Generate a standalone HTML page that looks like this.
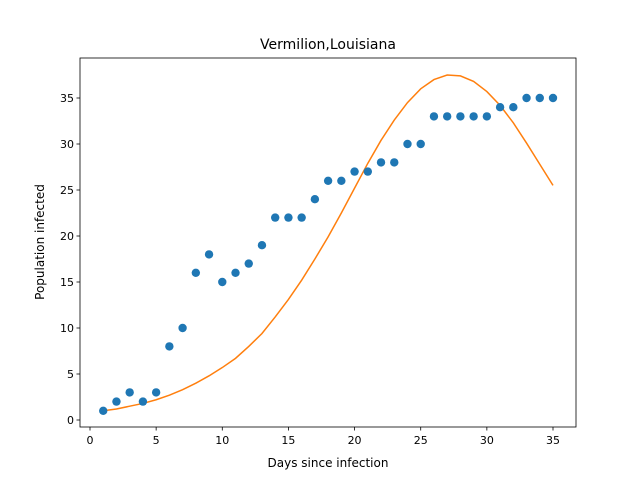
<!DOCTYPE html>
<html><head><meta charset="utf-8"><style>body{margin:0;background:#fff}svg{display:block;font-family:"DejaVu Sans","Liberation Sans",sans-serif}</style></head>
<body>
<svg id="c" width="640" height="480"></svg>
<script>
const days=[1,2,3,4,5,6,7,8,9,10,11,12,13,14,15,16,17,18,19,20,21,22,23,24,25,26,27,28,29,30,31,32,33,34,35];
const observed=[1,2,3,2,3,8,10,16,18,15,16,17,19,22,22,22,24,26,26,27,27,28,28,30,30,33,33,33,33,33,34,34,35,35,35];
const fitted=[1.0,1.2,1.5,1.8,2.2,2.7,3.3,4.0,4.8,5.7,6.7,8.0,9.4,11.2,13.1,15.2,17.5,19.9,22.5,25.2,27.9,30.4,32.6,34.5,36.0,37.0,37.5,37.4,36.8,35.7,34.2,32.3,30.1,27.8,25.5];
const xTicks=[0,5,10,15,20,25,30,35];
const yTicks=[0,5,10,15,20,25,30,35];
const NS="http://www.w3.org/2000/svg",svg=document.getElementById('c');
const L=80,R=576,T=58,B=427;
const X=v=>90+(v)*(463/35), Y=v=>420-v*(322/35);
function el(t,a,p){const e=document.createElementNS(NS,t);for(const k in a)e.setAttribute(k,a[k]);(p||svg).appendChild(e);return e;}
const frame=el('rect',{x:L,y:T,width:R-L,height:B-T,fill:'none',stroke:'#000','stroke-width':0.8});


xTicks.forEach(t=>{el('line',{x1:X(t),x2:X(t),y1:B,y2:B+3.5,stroke:'#000','stroke-width':0.8});
const tx=el('text',{x:X(t),y:B+17,'text-anchor':'middle','font-size':11});tx.textContent=t;

});
yTicks.forEach(t=>{el('line',{x1:L,x2:L-3.5,y1:Y(t),y2:Y(t),stroke:'#000','stroke-width':0.8});
const tx=el('text',{x:L-6,y:Y(t)+4,'text-anchor':'end','font-size':11});tx.textContent=t;

});
const line=el('polyline',{points:days.map((d,i)=>X(d)+','+Y(fitted[i])).join(' '),fill:'none',stroke:'#ff7f0e','stroke-width':1.5});


days.forEach((d,i)=>{const c=el('circle',{cx:X(d),cy:Y(observed[i]),r:4.2,fill:'#1f77b4'});

});
const ti=el('text',{x:328,y:49,'text-anchor':'middle','font-size':14});ti.textContent='Vermilion,Louisiana';


const xl=el('text',{x:328,y:467,'text-anchor':'middle','font-size':12});xl.textContent='Days since infection';


const yl=el('text',{x:44,y:242,'text-anchor':'middle','font-size':12,transform:'rotate(-90 44 242)'});yl.textContent='Population infected';


</script>
</body></html>
